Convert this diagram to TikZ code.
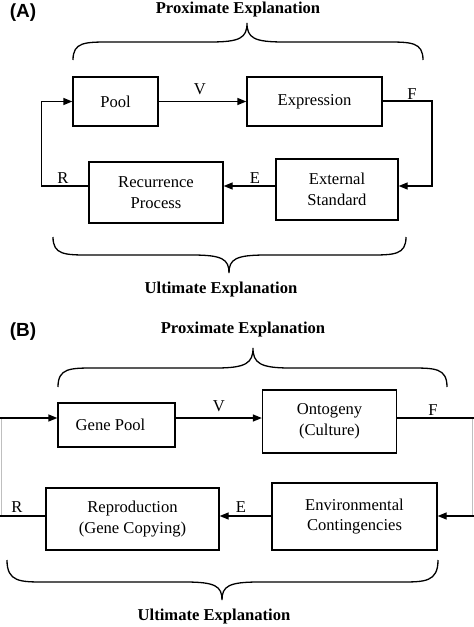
\documentclass[tikz,border=0pt]{standalone}
\usepackage{fontspec}
\setmainfont{Liberation Serif}
\newfontfamily\labfont{Liberation Sans}
\usetikzlibrary{arrows.meta}
\tikzset{
  box/.style={draw, line width=1.3pt, inner sep=0pt, align=center, font=\fontsize{16.6}{20.5}\selectfont},
  conn/.style={line width=1.3pt},
  arr/.style={conn, -{Triangle[length=9pt,width=7pt]}},
  lab/.style={font=\fontsize{16.6}{20}\selectfont, inner sep=0pt},
  head/.style={font=\fontsize{16.6}{20}\selectfont\bfseries, inner sep=0pt},
  panel/.style={font=\fontsize{19}{22}\selectfont\labfont\bfseries, inner sep=0pt},
  brace/.style={line width=1.3pt},
  edge/.style={line width=1.3pt, draw=black!25}
}
\begin{document}
\begin{tikzpicture}[x=1pt,y=-1pt]
\useasboundingbox (0,0) rectangle (474,627);
% ===== Panel A =====
\node[panel] (pa) at (23,13) {(A)};
\node[head] (pxa) at (238,10) {Proximate Explanation};
\draw[brace] (73,60) .. controls (73,42) and (85,42) .. (110,42) -- (210,42)
  .. controls (240,42) and (247,38) .. (247,23)
  .. controls (247,38) and (254,42) .. (284,42) -- (386,42)
  .. controls (411,42) and (423,42) .. (423,60);
\node[box, minimum width=85pt, minimum height=49pt] (pool) at (115.5,101.5) {Pool};
\node[box, minimum width=135pt, minimum height=49pt] (expr) at (314.5,101.5) {Expression};
\node[box, minimum width=122pt, minimum height=61pt] (ext) at (337,189.5) {External\\Standard};
\node[box, minimum width=134pt, minimum height=61pt] (rec) at (156,192.5) {Recurrence\\Process};
\coordinate (ya) at (0,186);
\coordinate (ra) at (41.5,186);
\coordinate (fa) at (432,101);
\draw[arr] (pool.east) -- (expr.west) node[lab, pos=0.47, above=6pt] (va) {V};
\draw[arr] (expr.east |- fa) -- (fa) |- (ext.east |- ya);
\node[lab] (fla) at (412,94) {F};
\draw[arr] (ext.west |- ya) -- (rec.east |- ya);
\node[lab] (ela) at (255,178) {E};
\draw[arr] (rec.west |- ya) -- (ra) |- (pool.west);
\node[lab] (rla) at (63,178) {R};
\draw[brace] (53,237) .. controls (53,255) and (65,255) .. (90,255) -- (192,255)
  .. controls (222,255) and (229,259) .. (229,273)
  .. controls (229,259) and (236,255) .. (266,255) -- (369,255)
  .. controls (394,255) and (406,255) .. (406,237);
\node[head] (ula) at (221,290) {Ultimate Explanation};
% ===== Panel B =====
\node[panel] (pb) at (23,332) {(B)};
\node[head] (pxb) at (243,330) {Proximate Explanation};
\draw[brace] (58,387) .. controls (58,368) and (70,368) .. (95,368) -- (216,368)
  .. controls (246,368) and (253,363) .. (253,348)
  .. controls (253,363) and (260,368) .. (290,368) -- (410,368)
  .. controls (435,368) and (447,368) .. (447,387);
\node[box, minimum width=117pt, minimum height=44pt] (gene) at (116.5,425) {\hspace*{-12pt}Gene Pool};
\node[box, minimum width=134pt, minimum height=63pt] (onto) at (329.5,421.5) {Ontogeny\\(Culture)};
\node[box, minimum width=165pt, minimum height=67pt] (env) at (354.5,516.5) {Environmental\\Contingencies};
\node[box, minimum width=173pt, minimum height=62pt] (repro) at (132.5,519) {Reproduction\\(Gene Copying)};
\coordinate (yb1) at (0,418);
\coordinate (yb2) at (0,516);
\coordinate (lt) at (1.5,418);
\coordinate (lb) at (1.5,516);
\coordinate (rt) at (472.5,418);
\coordinate (rb) at (472.5,516);
\coordinate (l0) at (0,418);
\coordinate (l1) at (0,516);
\coordinate (r1) at (474,418);
\coordinate (r2) at (474,516);
\draw[edge] (lt) -- (lb);
\draw[edge] (rt) -- (rb);
\draw[arr] (l0) -- (gene.west |- yb1);
\draw[arr] (gene.east |- yb1) -- (onto.west |- yb1) node[lab, midway, above=6pt] (vb) {V};
\draw[conn] (onto.east |- yb1) -- (r1);
\node[lab] (flb) at (433,410) {F};
\draw[arr] (r2) -- (env.east |- yb2);
\draw[arr] (env.west |- yb2) -- (repro.east |- yb2);
\node[lab] (elb) at (241,507) {E};
\draw[conn] (repro.west |- yb2) -- (l1);
\node[lab] (rlb) at (17,507) {R};
\draw[brace] (7,560) .. controls (7,582) and (20,582) .. (45,582) -- (185,582)
  .. controls (215,582) and (222,586) .. (222,600)
  .. controls (222,586) and (229,582) .. (259,582) -- (400,582)
  .. controls (425,582) and (438,582) .. (438,560);
\node[head] (ulb) at (214,617) {Ultimate Explanation};
\end{tikzpicture}
\end{document}
